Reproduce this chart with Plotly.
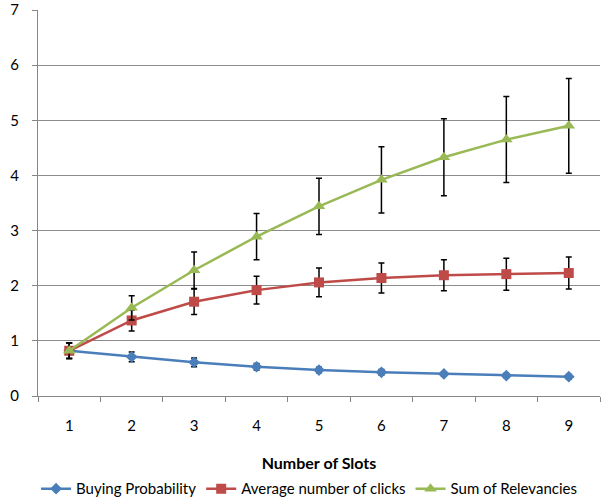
import plotly.graph_objects as go

slots = [1, 2, 3, 4, 5, 6, 7, 8, 9]
buying_prob = [0.82, 0.71, 0.61, 0.53, 0.47, 0.43, 0.40, 0.37, 0.35]
buying_err = [0.14, 0.09, 0.08, 0.06, 0.05, 0.05, 0.04, 0.04, 0.04]
avg_clicks = [0.82, 1.37, 1.71, 1.92, 2.06, 2.14, 2.19, 2.21, 2.23]
clicks_err = [0.14, 0.19, 0.23, 0.25, 0.26, 0.27, 0.28, 0.29, 0.29]
sum_rel = [0.82, 1.60, 2.28, 2.89, 3.44, 3.92, 4.33, 4.65, 4.90]
rel_err = [0.14, 0.22, 0.33, 0.42, 0.51, 0.60, 0.70, 0.78, 0.86]

font = "Lato, 'Open Sans', sans-serif"

fig = go.Figure()
series = [
    ("Buying Probability", buying_prob, buying_err, "#4a7ebb", "diamond", 9),
    ("Average number of clicks", avg_clicks, clicks_err, "#be4b48", "square", 10),
    ("Sum of Relevancies", sum_rel, rel_err, "#98b954", "triangle-up", 11),
]
for name, y, e, c, sym, sz in series:
    fig.add_trace(go.Scatter(
        x=slots, y=y, name=name, mode="lines+markers",
        line=dict(color=c, width=2.5),
        marker=dict(symbol=sym, size=sz, color=c),
        error_y=dict(type="data", array=e, visible=True, color="black",
                     thickness=1.5, width=3),
    ))

fig.update_layout(
    width=612, height=504,
    margin=dict(l=38, r=12, t=10, b=108),
    paper_bgcolor="white", plot_bgcolor="white",
    font=dict(family=font, size=14, color="black"),
    showlegend=True,
    legend=dict(orientation="h", x=0.505, xanchor="center", xref="container",
                y=0.03, yanchor="middle", yref="container",
                font=dict(size=15), itemwidth=30, tracegroupgap=0),
    xaxis=dict(
        range=[0.5, 9.5], tickvals=slots, ticktext=[str(s) for s in slots],
        ticks="", showgrid=False, showline=True, linecolor="#868686", linewidth=1,
        zeroline=False, automargin=False, ticklabelstandoff=16,
        minor=dict(tick0=0.5, dtick=1, ticks="outside", ticklen=5, tickcolor="#868686", showgrid=False),
        title=dict(text="<b>Number of Slots</b>", font=dict(size=16), standoff=28),
        tickfont=dict(size=15),
    ),
    yaxis=dict(
        range=[0, 7], dtick=1, ticks="outside", ticklen=5, tickcolor="#868686",
        showgrid=True, gridcolor="#8c8c8c", gridwidth=1,
        showline=True, linecolor="#868686", linewidth=1, zeroline=False,
        automargin=False, ticklabelstandoff=10, ticklabeloverflow="allow",
        tickfont=dict(size=15),
    ),
)

fig.write_html("out.html", config={"displayModeBar": False},
               post_script="document.body.style.margin='0px';")
